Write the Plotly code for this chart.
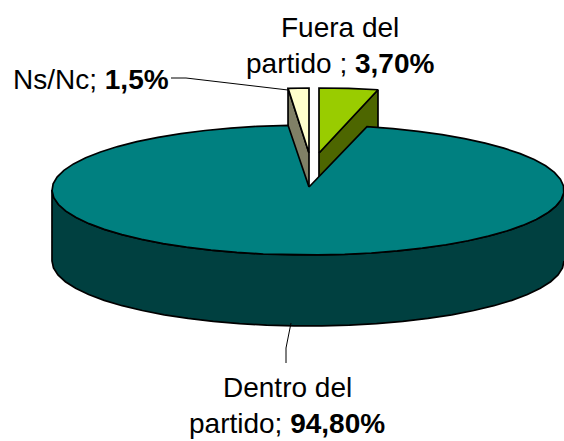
import numpy as np
import plotly.graph_objects as go

categories = ["Fuera del partido", "Dentro del partido", "Ns/Nc"]
values = [3.70, 94.80, 1.5]
value_labels = ["3,70%", "94,80%", "1,5%"]

W, H = 564, 441
A, B, D = 256, 65, 71            # ellipse radii and pie depth
CX, CY = 308, 190                # rim centre of the big slice
AX, AY = 309, 187                # apex of the big slice
GX, GY = 319, 153                # apex of the exploded green slice
YX, YY = 309, 153                # apex of the exploded yellow slice
Y_SCALE = 0.87                   # foreshortening of the narrow back-left slice
TOP, SIDE = "#008080", "#004040"
C_GREEN, C_GREEN_D = "#99CC00", "#4D6600"
C_YEL, C_YEL_D = "#FFFFCC", "#808066"
LW = 1.7

total = sum(values)
a_green = values[0] / total * 2 * np.pi
a_yel = values[2] / total * 2 * np.pi


def rim(t0, t1, cx, cy, step=np.radians(6), a=A):
    n = max(2, int(abs(t1 - t0) / step) + 1)
    t = np.linspace(t0, t1, n)
    return cx + a * np.sin(t), cy - B * np.cos(t)


fig = go.Figure()


def poly(x, y, color):
    fig.add_trace(go.Scatter(x=list(x), y=list(y), mode="lines", fill="toself",
                             fillcolor=color, line=dict(color="black", width=LW),
                             hoverinfo="skip", showlegend=False))


# exploded green slice: cut wall, then top
gx1, gy1 = GX + A * np.sin(a_green), GY - B * np.cos(a_green)
poly([GX, gx1, gx1, GX, GX], [GY, gy1, gy1 + D, GY + D, GY], C_GREEN_D)
rx, ry = rim(0, a_green, GX, GY)
poly([GX, *rx, GX], [GY, *ry, GY], C_GREEN)

# exploded yellow slice: cut wall, then top
yx1, yy1 = YX - A * Y_SCALE * np.sin(a_yel), YY - B * np.cos(a_yel)
poly([YX, yx1, yx1, YX, YX], [YY, yy1, yy1 + D, YY + D, YY], C_YEL_D)
rx, ry = rim(-a_yel, 0, YX, YY, step=a_yel, a=A * Y_SCALE)
poly([YX, *rx, YX], [YY, *ry, YY], C_YEL)

# big slice: outer side wall (front half)
fx, fy = rim(np.pi / 2, 3 * np.pi / 2, CX, CY)
poly([*fx, *fx[::-1]], [*fy, *(fy[::-1] + D)], SIDE)

# big slice: top
rx, ry = rim(a_green, 2 * np.pi - a_yel, CX, CY)
rx[-1] = AX - A * Y_SCALE * np.sin(a_yel)
poly([AX, *rx, AX], [AY, *ry, AY], TOP)

# leader lines
LEADERS = [([171, 186, 288], [78, 78, 90]), ([291, 286, 286], [323, 348, 363])]
for lx, ly in LEADERS:
    fig.add_trace(go.Scatter(x=lx, y=ly, mode="lines", line=dict(color="black", width=1),
                             hoverinfo="skip", showlegend=False))

FONT = dict(family="Liberation Sans, Arial, sans-serif", size=28, color="black")
annots = [
    (340, 27, "Fuera del"),
    (340, 63, f"partido ; <b>{value_labels[0]}</b>"),
    (287, 387, "Dentro del"),
    (287, 423, f"partido; <b>{value_labels[1]}</b>"),
    (91, 79, f"Ns/Nc; <b>{value_labels[2]}</b>"),
]
for x, y, t in annots:
    fig.add_annotation(x=x, y=y, text=t, showarrow=False, font=FONT,
                       xanchor="center", yanchor="middle")

fig.update_layout(
    width=W, height=H, margin=dict(l=0, r=0, t=0, b=0),
    paper_bgcolor="white", plot_bgcolor="white", showlegend=False,
    xaxis=dict(range=[0, W], visible=False, fixedrange=True),
    yaxis=dict(range=[H, 0], visible=False, fixedrange=True),
)
fig.write_html("out.html", config={"displayModeBar": False},
               post_script="document.body.style.margin='0';document.body.style.overflow='hidden';")
